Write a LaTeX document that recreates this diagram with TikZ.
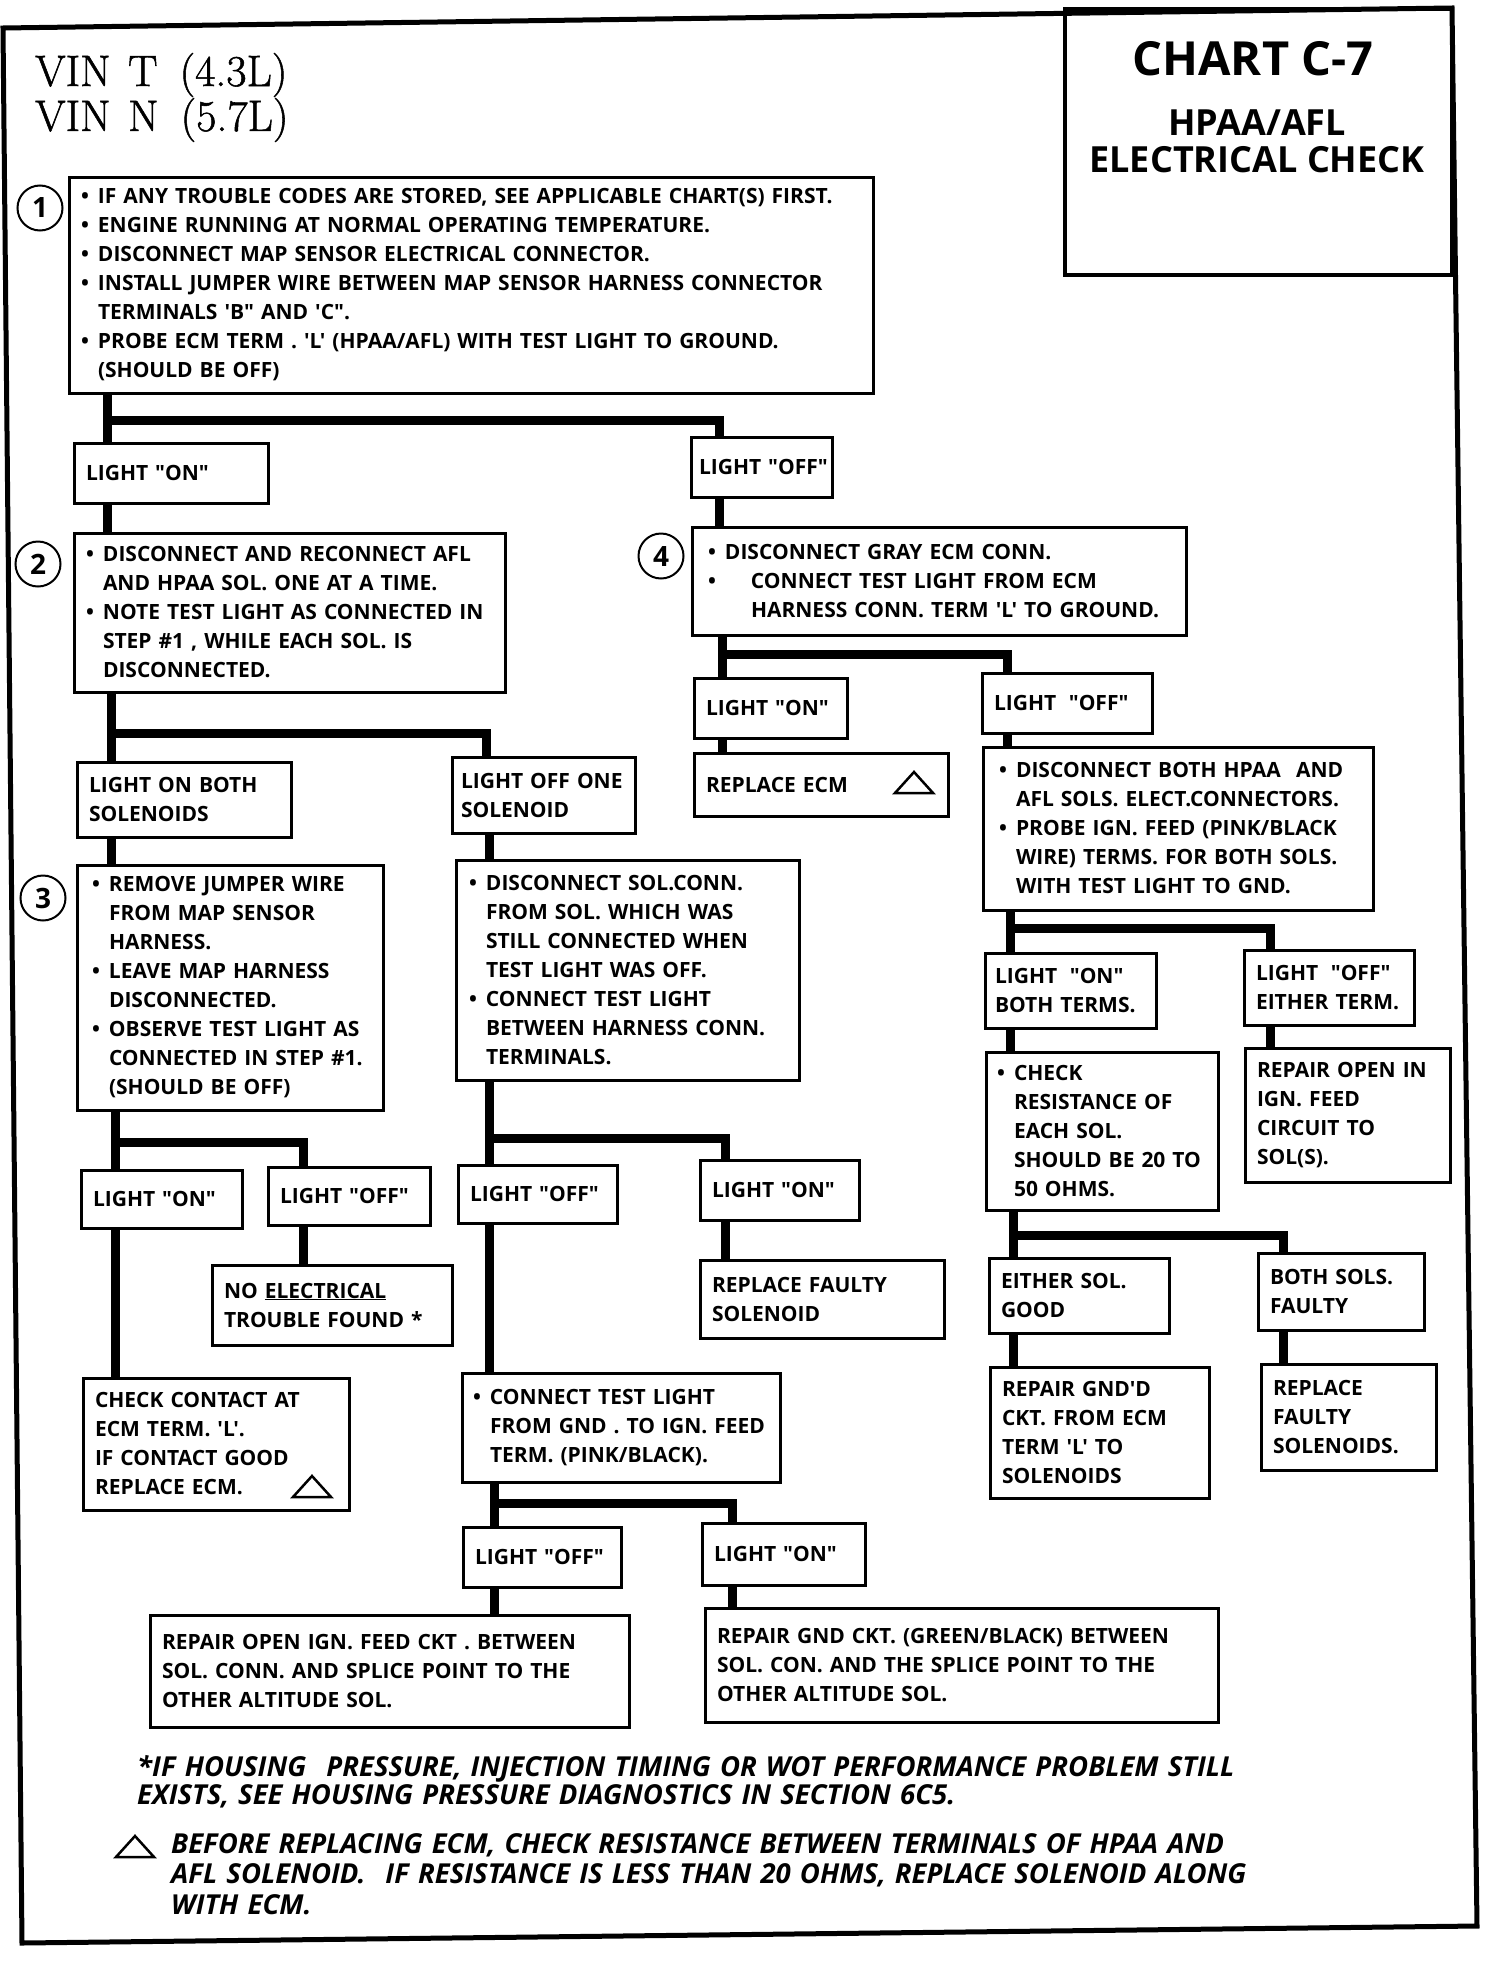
\documentclass[tikz,border=0pt]{standalone}
\usepackage{fontspec}
\newfontfamily\chartsans{Open Sans}
\newfontfamily\vinfont{Latin Modern Roman}[FakeBold=1.2]
\newcommand{\boxtext}{\chartsans\bfseries\fontsize{21}{29}\selectfont}
\newcommand{\notetext}{\chartsans\bfseries\itshape\fontsize{27.5}{28}\selectfont}
\newcommand{\bul}{\makebox[17pt][l]{\textbullet}}
\newcommand{\cnt}{\hspace*{17pt}}
% small warning triangle, centred on (x,y)
\newcommand{\warntri}[2]{\draw[tri] (#1-19,#2+10) -- (#1,#2-11) -- (#1+19,#2+10) -- cycle;}

\begin{document}
\begin{tikzpicture}[
  x=1pt, y=-1pt,
  stepbox/.style={draw, line width=3pt, align=left, inner xsep=12pt, inner ysep=0pt,
                  font=\boxtext},
  stepnum/.style={circle, draw, line width=2pt, minimum size=45pt, inner sep=0pt,
                  font=\chartsans\bfseries\fontsize{28}{28}\selectfont},
  wire/.style={line width=9pt},
  frame/.style={line width=5pt, line join=miter},
  tri/.style={line width=2.5pt, line join=miter},
]
\useasboundingbox (0,0) rectangle (1504,1962);

%%──────────────────────────────────────────────────────────────────
%% FRAME AND HEADING
%%──────────────────────────────────────────────────────────────────
\draw[frame] (3,28) -- (1452,8) -- (1477,1926) -- (22,1943) -- cycle;

\node[draw, line width=4pt, minimum width=387pt, minimum height=266pt] (chart)
      at (1258.5,142) {};
\node[anchor=base, font=\chartsans\bfseries\fontsize{47}{47}\selectfont] (ttl1)
      at (1253,75) {CHART C-7};
\node[anchor=base, font=\chartsans\bfseries\fontsize{36}{36}\selectfont] (ttl2)
      at (1257,135) {HPAA/AFL};
\node[anchor=base, font=\chartsans\bfseries\fontsize{36}{36}\selectfont] (ttl3)
      at (1257,172) {ELECTRICAL CHECK};

\node[anchor=base west, inner sep=0pt, text width=400pt, align=left,
      font=\vinfont\fontsize{44}{43}\selectfont] (vin) at (35,86)
      {VIN\hspace{.4em}T\hspace{.5em}(4.3L)\\VIN\hspace{.4em}N\hspace{.5em}(5.7L)};

%%──────────────────────────────────────────────────────────────────
%% STEP 1
%%──────────────────────────────────────────────────────────────────
\node[stepnum] (n1) at (40,208) {1};
\node[stepbox, text width=780pt, minimum height=216pt] (s1) at (471,285)
  {\bul IF ANY TROUBLE CODES ARE STORED, SEE APPLICABLE CHART(S) FIRST.\\
   \bul ENGINE RUNNING AT NORMAL OPERATING TEMPERATURE.\\
   \bul DISCONNECT MAP SENSOR ELECTRICAL CONNECTOR.\\
   \bul INSTALL JUMPER WIRE BETWEEN MAP SENSOR HARNESS CONNECTOR\\
   \cnt TERMINALS 'B" AND 'C".\\
   \bul PROBE ECM TERM . 'L' (HPAA/AFL) WITH TEST LIGHT TO GROUND.\\
   \cnt (SHOULD BE OFF)};

\node[stepbox, text width=170pt, minimum height=60pt] (t1on) at (171,473) {LIGHT "ON"};
\node[stepbox, inner xsep=8pt, text width=125pt, minimum height=60pt] (t1off) at (761.5,467)
      {\mbox{LIGHT "OFF"}};

% branch points
\coordinate (j1) at (107,420);  \coordinate (k1) at (719,420);
\coordinate (j2) at (111,733);  \coordinate (k2) at (486,733);
\coordinate (j4) at (722,654);  \coordinate (k4) at (1007,654);
\coordinate (j3) at (115,1142); \coordinate (k3) at (303,1142);
\coordinate (j3b) at (489,1138); \coordinate (k3b) at (725,1138);
\coordinate (j5) at (1010,928); \coordinate (k5) at (1270,928);
\coordinate (j6) at (1013,1235); \coordinate (k6) at (1283,1235);
\coordinate (j8) at (494,1503); \coordinate (k8) at (732,1503);

\draw[wire] (s1.south -| j1) -- (t1on.north -| j1);
\draw[wire] (j1) -- (k1) -- (t1off.north -| k1);

%%──────────────────────────────────────────────────────────────────
%% STEP 2 (light on) and STEP 4 (light off)
%%──────────────────────────────────────────────────────────────────
\node[stepnum] (n2) at (38,564) {2};
\node[stepbox, text width=407pt, minimum height=159pt] (s2) at (289.5,612.5)
  {\bul DISCONNECT AND RECONNECT AFL\\
   \cnt AND HPAA SOL. ONE AT A TIME.\\
   \bul NOTE TEST LIGHT AS CONNECTED IN\\
   \cnt STEP \#1 , WHILE EACH SOL. IS\\
   \cnt DISCONNECTED.};
\draw[wire] (t1on.south -| j1) -- (s2.north -| j1);

\node[stepnum] (n4) at (661,556) {4};
\node[stepbox, inner xsep=16pt, text width=462pt, minimum height=108pt] (s4) at (939,581)
  {\bul DISCONNECT GRAY ECM CONN.\\
   \makebox[43pt][l]{\textbullet}CONNECT TEST LIGHT FROM ECM\\
   \hspace*{43pt}HARNESS CONN. TERM 'L' TO GROUND.};
\draw[wire] (t1off.south -| k1) -- (s4.north -| k1);

\node[stepbox, text width=190pt, minimum height=75pt] (t2a) at (184,799.5)
      {LIGHT ON BOTH\\SOLENOIDS};
\node[stepbox, inner xsep=9pt, text width=165pt, minimum height=76pt] (t2b) at (543.5,795)
      {LIGHT OFF ONE\\SOLENOID};
\draw[wire] (s2.south -| j2) -- (t2a.north -| j2);
\draw[wire] (j2) -- (k2) -- (t2b.north -| k2);

\node[stepbox, text width=129pt, minimum height=60pt] (t4on) at (770.5,708) {LIGHT "ON"};
\node[stepbox, text width=146pt, minimum height=60pt] (t4off) at (1067,703)
      {LIGHT\hspace{.6em}"OFF"};
\draw[wire] (s4.south -| j4) -- (t4on.north -| j4);
\draw[wire] (j4) -- (k4) -- (t4off.north -| k4);

\node[stepbox, text width=230pt, minimum height=63pt] (r4on) at (821,784.5) {REPLACE ECM};
\warntri{914}{783}
\draw[wire] (t4on.south -| j4) -- (r4on.north -| j4);

\node[stepbox, inner xsep=16pt, text width=358pt, minimum height=163pt] (s4b) at (1178,828.5)
  {\bul DISCONNECT BOTH HPAA\hspace{.4em} AND\\
   \cnt AFL SOLS. ELECT.CONNECTORS.\\
   \bul PROBE IGN. FEED (PINK/BLACK\\
   \cnt WIRE) TERMS. FOR BOTH SOLS.\\
   \cnt WITH TEST LIGHT TO GND.};
\draw[wire] (t4off.south -| k4) -- (s4b.north -| k4);

%%──────────────────────────────────────────────────────────────────
%% STEP 3 and the open solenoid check
%%──────────────────────────────────────────────────────────────────
\node[stepnum] (n3) at (43,898) {3};
\node[stepbox, inner xsep=15pt, text width=276pt, minimum height=245pt] (s3) at (230,987.5)
  {\bul REMOVE JUMPER WIRE\\
   \cnt FROM MAP SENSOR\\
   \cnt HARNESS.\\
   \bul LEAVE MAP HARNESS\\
   \cnt DISCONNECTED.\\
   \bul OBSERVE TEST LIGHT AS\\
   \cnt CONNECTED IN STEP \#1.\\
   \cnt (SHOULD BE OFF)};
\draw[wire] (t2a.south -| j2) -- (s3.north -| j2);

\node[stepbox, inner xsep=13pt, text width=317pt, minimum height=220pt] (s3b) at (627.5,970)
  {\bul DISCONNECT SOL.CONN.\\
   \cnt FROM SOL. WHICH WAS\\
   \cnt STILL CONNECTED WHEN\\
   \cnt TEST LIGHT WAS OFF.\\
   \bul CONNECT TEST LIGHT\\
   \cnt BETWEEN HARNESS CONN.\\
   \cnt TERMINALS.};
\draw[wire] (t2b.south -| j3b) -- (s3b.north -| j3b);

% feed terminals
\node[stepbox, inner xsep=10pt, text width=151pt, minimum height=75pt] (t5on) at (1070.5,990.5)
      {LIGHT\hspace{.6em}"ON"\\BOTH TERMS.};
\node[stepbox, text width=146pt, minimum height=75pt] (t5off) at (1329,987.5)
      {LIGHT\hspace{.6em}"OFF"\\EITHER TERM.};
\draw[wire] (s4b.south -| j5) -- (t5on.north -| j5);
\draw[wire] (j5) -- (k5) -- (t5off.north -| k5);

\node[stepbox, inner xsep=11pt, text width=210pt, minimum height=158pt] (s5) at (1102,1131)
  {\bul CHECK\\
   \cnt RESISTANCE OF\\
   \cnt EACH SOL.\\
   \cnt SHOULD BE 20 TO\\
   \cnt 50 OHMS.};
\draw[wire] (t5on.south -| j5) -- (s5.north -| j5);

\node[stepbox, text width=181pt, minimum height=134pt] (r5off) at (1347.5,1115)
      {REPAIR OPEN IN\\IGN. FEED\\CIRCUIT TO\\SOL(S).};
\draw[wire] (t5off.south -| k5) -- (r5off.north -| k5);

%%──────────────────────────────────────────────────────────────────
%% LOWER OUTCOMES
%%──────────────────────────────────────────────────────────────────
\node[stepbox, text width=137pt, minimum height=58pt] (t3on) at (161.5,1199) {LIGHT "ON"};
\node[stepbox, text width=138pt, minimum height=58pt] (t3off) at (349,1196) {LIGHT "OFF"};
\draw[wire] (s3.south -| j3) -- (t3on.north -| j3);
\draw[wire] (j3) -- (k3) -- (t3off.north -| k3);

\node[stepbox, text width=135pt, minimum height=58pt] (t3boff) at (537.5,1194) {LIGHT "OFF"};
\node[stepbox, text width=135pt, minimum height=60pt] (t3bon) at (779.5,1190) {LIGHT "ON"};
\draw[wire] (s3b.south -| j3b) -- (t3boff.north -| j3b);
\draw[wire] (j3b) -- (k3b) -- (t3bon.north -| k3b);

\node[stepbox, text width=216pt, minimum height=80pt] (r3off) at (332,1305)
      {NO \underline{ELECTRICAL}\\TROUBLE FOUND *};
\draw[wire] (t3off.south -| k3) -- (r3off.north -| k3);

\node[stepbox, text width=220pt, minimum height=78pt] (r3bon) at (822,1299)
      {REPLACE FAULTY\\SOLENOID};
\draw[wire] (t3bon.south -| k3b) -- (r3bon.north -| k3b);

\node[stepbox, text width=156pt, minimum height=75pt] (t6a) at (1079,1295.5)
      {EITHER SOL.\\GOOD};
\node[stepbox, text width=142pt, minimum height=77pt] (t6b) at (1341,1291.5)
      {BOTH SOLS.\\FAULTY};
\draw[wire] (s5.south -| j6) -- (t6a.north -| j6);
\draw[wire] (j6) -- (k6) -- (t6b.north -| k6);

\node[stepbox, text width=242pt, minimum height=132pt] (r3on) at (216,1444)
      {CHECK CONTACT AT\\ECM TERM. 'L'.\\IF CONTACT GOOD\\REPLACE ECM.};
\warntri{312}{1487}
\draw[wire] (t3on.south -| j3) -- (r3on.north -| j3);

\node[stepbox, inner xsep=11pt, text width=296pt, minimum height=109pt] (s8) at (621,1427.5)
  {\bul CONNECT TEST LIGHT\\
   \cnt FROM GND . TO IGN. FEED\\
   \cnt TERM. (PINK/BLACK).};
\draw[wire] (t3boff.south -| j3b) -- (s8.north -| j3b);

\node[stepbox, text width=195pt, minimum height=131pt] (r6a) at (1099.5,1432.5)
      {REPAIR GND'D\\CKT. FROM ECM\\TERM 'L' TO\\SOLENOIDS};
\node[stepbox, text width=151pt, minimum height=106pt] (r6b) at (1348.5,1417)
      {REPLACE\\FAULTY\\SOLENOIDS.};
\draw[wire] (t6a.south -| j6) -- (r6a.north -| j6);
\draw[wire] (t6b.south -| k6) -- (r6b.north -| k6);

\node[stepbox, text width=134pt, minimum height=60pt] (t8off) at (542,1557) {LIGHT "OFF"};
\node[stepbox, text width=139pt, minimum height=62pt] (t8on) at (783.5,1554) {LIGHT "ON"};
\draw[wire] (s8.south -| j8) -- (t8off.north -| j8);
\draw[wire] (j8) -- (k8) -- (t8on.north -| k8);

\node[stepbox, text width=455pt, minimum height=112pt] (r8off) at (389.5,1671)
      {REPAIR OPEN IGN. FEED CKT . BETWEEN\\
       SOL. CONN. AND SPLICE POINT TO THE\\
       OTHER ALTITUDE SOL.};
\node[stepbox, text width=489pt, minimum height=114pt] (r8on) at (961.5,1665)
      {REPAIR GND CKT. (GREEN/BLACK) BETWEEN\\
       SOL. CON. AND THE SPLICE POINT TO THE\\
       OTHER ALTITUDE SOL.};
\draw[wire] (t8off.south -| j8) -- (r8off.north -| j8);
\draw[wire] (t8on.south -| k8) -- (r8on.north -| k8);

%%──────────────────────────────────────────────────────────────────
%% FOOTNOTES
%%──────────────────────────────────────────────────────────────────
\node[anchor=base west, inner sep=0pt, text width=1300pt, align=left, font=\notetext]
      (note1) at (137,1776)
      {*IF HOUSING\hspace{.4em} PRESSURE, INJECTION TIMING OR WOT PERFORMANCE PROBLEM STILL\\
       EXISTS, SEE HOUSING PRESSURE DIAGNOSTICS IN SECTION 6C5.};
\warntri{135}{1847}
\node[anchor=base west, inner sep=0pt, text width=1300pt, align=left,
      font=\notetext\fontsize{27.5}{30.5}\selectfont]
      (note2) at (171,1853)
      {BEFORE REPLACING ECM, CHECK RESISTANCE BETWEEN TERMINALS OF HPAA AND\\
       AFL SOLENOID.\hspace{.4em} IF RESISTANCE IS LESS THAN 20 OHMS, REPLACE SOLENOID ALONG\\
       WITH ECM.};

\end{tikzpicture}
\end{document}
